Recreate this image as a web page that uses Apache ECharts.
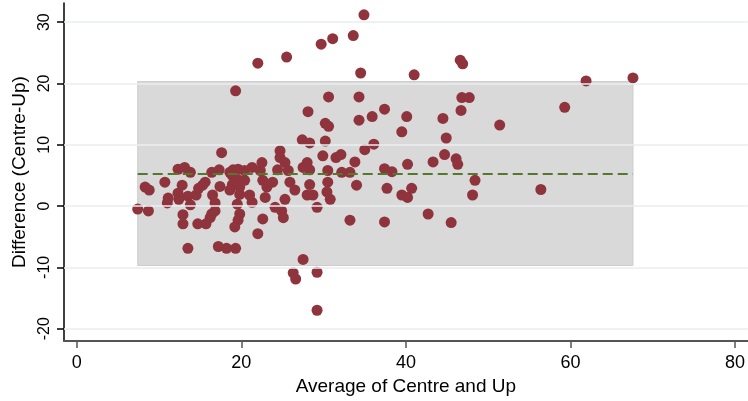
<!DOCTYPE html>
<html>
<head>
<meta charset="utf-8">
<script src="https://cdn.jsdelivr.net/npm/echarts@6/dist/echarts.min.js"></script>
<style>
html,body{margin:0;padding:0;background:#fff;}
#chart{width:748px;height:401px;}
</style>
</head>
<body>
<div id="chart"></div>
<script>
// Average of Centre and Up (x) and Difference Centre-Up (y)
const avgValues = [
 7.4, 8.7, 8.3, 8.8, 10.7, 11.0, 11.1, 12.3, 13.1, 13.8,
 12.8, 12.3, 12.4, 13.5, 13.8, 12.9, 12.9, 13.5, 14.7, 15.7,
 16.2, 14.5, 14.8, 15.3, 15.6, 16.5, 16.8, 16.4, 16.8, 16.4,
 17.3, 17.6, 17.4, 17.2, 18.2, 19.3, 18.6, 19.0, 19.6, 18.9,
 19.6, 18.9, 19.8, 18.6, 19.8, 21.0, 21.3, 19.5, 19.8, 19.6,
 19.2, 20.4, 21.3, 22.5, 22.3, 22.6, 23.1, 23.8, 22.9, 22.0,
 22.6, 24.1, 24.9, 25.1, 25.3, 24.7, 24.7, 25.3, 24.4, 25.7,
 25.9, 26.5, 27.5, 28.0, 28.3, 28.3, 28.0, 28.7, 29.2, 27.5,
 27.4, 28.3, 29.9, 30.2, 30.5, 30.4, 30.8, 31.5, 32.1, 33.8,
 35.0, 36.1, 39.5, 40.2, 43.3, 44.9, 44.7, 46.1, 46.3, 30.5,
 32.2, 33.2, 37.4, 38.3, 34.0, 37.7, 40.7, 39.5, 40.2, 48.4,
 48.1, 33.2, 37.4, 42.7, 45.5, 26.3, 26.6, 29.2, 29.2, 34.9,
 33.6, 31.1, 29.7, 25.5, 22.0, 34.5, 41.0, 19.3, 30.6, 34.3,
 28.1, 37.4, 40.1, 34.3, 35.9, 30.2, 30.6, 46.6, 46.9, 46.8,
 47.7, 46.7, 44.5, 51.4, 56.4, 59.3, 61.9, 67.6, 20.4
];
const diffValues = [
 -0.5, -0.8, 3.1, 2.6, 3.9, 0.5, 1.3, 6.0, 6.3, 5.5,
 3.4, 2.1, 1.1, 1.6, 0.2, -1.4, -2.9, -6.9, -2.9, -2.9,
 -1.9, 1.8, 2.9, 3.4, 3.9, 1.8, 0.5, -1.3, -0.8, 5.5,
 5.9, 8.7, 3.2, -6.6, -6.9, -6.9, 5.5, 5.9, 6.0, 5.0,
 4.3, 3.5, 3.1, 2.6, 1.9, 1.8, 0.6, 0.3, -1.3, -2.3,
 -3.4, 5.8, 6.3, 7.1, 5.8, 4.2, 3.1, 3.9, 1.4, -4.5,
 -2.1, -0.2, -0.8, -1.9, 1.1, 9.0, 7.9, 7.1, 5.9, 5.8,
 3.9, 2.6, 6.3, 7.1, 5.9, 3.5, 1.8, 1.8, -0.2, -8.7,
 10.8, 10.3, 8.2, 10.6, 3.9, 2.3, 1.1, 7.9, 8.4, 7.2,
 9.2, 10.1, 12.1, 6.8, 7.2, 11.1, 8.4, 7.7, 6.8, 5.8,
 5.5, 5.5, 6.1, 5.6, 3.4, 2.9, 2.9, 1.8, 1.4, 4.2,
 1.8, -2.3, -2.6, -1.3, -2.7, -10.9, -11.9, -10.8, -17.0, 31.2,
 27.8, 27.3, 26.4, 24.3, 23.3, 21.7, 21.4, 18.8, 17.8, 17.8,
 15.4, 15.8, 14.6, 14.0, 14.6, 13.5, 13.0, 23.8, 23.2, 17.7,
 17.7, 15.6, 14.3, 13.2, 2.7, 16.1, 20.4, 20.9, 4.2
];
// limits of agreement: lower, mean difference, upper
const limitValues = [-9.7, 5.3, 20.3];
const xTickValues = [0, 20, 40, 60, 80];
const yTickValues = [-20, -10, 0, 10, 20, 30];

const points = avgValues.map((x, i) => [x, diffValues[i]]);
const xMin = Math.min(...avgValues);
const xMax = Math.max(...avgValues);

const FONT = '"Liberation Sans", Arial, Helvetica, sans-serif';
const chart = echarts.init(document.getElementById('chart'), null, {renderer: 'canvas'});
chart.setOption({
  animation: false,
  backgroundColor: '#ffffff',
  grid: {left: 64, right: 0, top: 3, bottom: 55, containLabel: false},
  xAxis: {
    type: 'value',
    min: -1.56, max: 81.55,
    name: 'Average of Centre and Up',
    nameLocation: 'middle',
    nameGap: 30,
    nameTextStyle: {fontFamily: FONT, fontSize: 19, color: '#000'},
    axisLine: {show: true, onZero: false, lineStyle: {color: '#555555', width: 2}},
    axisTick: {show: true, customValues: xTickValues, length: 7, lineStyle: {color: '#555555', width: 1.5}},
    axisLabel: {customValues: xTickValues, margin: 13, fontFamily: FONT, fontSize: 18, color: '#000'},
    splitLine: {show: false}
  },
  yAxis: {
    type: 'value',
    min: -22.03, max: 33.12,
    name: 'Difference (Centre-Up)',
    nameLocation: 'middle',
    nameGap: 33,
    nameTextStyle: {fontFamily: FONT, fontSize: 19, color: '#000'},
    axisLine: {show: true, onZero: false, lineStyle: {color: '#000', width: 1.5}},
    axisTick: {show: true, customValues: yTickValues, length: 7, lineStyle: {color: '#000', width: 1.5}},
    axisLabel: {customValues: yTickValues, rotate: 90, margin: 11, fontFamily: FONT, fontSize: 16, color: '#000'},
    splitLine: {show: false}
  },
  series: [
    {
      name: 'grid', type: 'scatter', data: [], z: 1, silent: true,
      markLine: {
        silent: true, symbol: 'none', label: {show: false}, animation: false,
        lineStyle: {color: '#e8eef2', width: 1.5, type: 'solid'},
        data: yTickValues.map(v => ({yAxis: v}))
      }
    },
    {
      name: 'band', type: 'scatter', data: [], z: 2, silent: true,
      markArea: {
        silent: true, animation: false,
        itemStyle: {color: '#d9d9d9', borderColor: '#cdcdcd', borderWidth: 1},
        data: [[{coord: [xMin, limitValues[0]]}, {coord: [xMax, limitValues[2]]}]]
      }
    },
    {
      name: 'mean', type: 'scatter', data: [], z: 3, silent: true,
      markLine: {
        silent: true, symbol: 'none', label: {show: false}, animation: false,
        lineStyle: {color: '#56782c', width: 2, type: [10, 5]},
        data: [[{coord: [xMin, limitValues[1]]}, {coord: [xMax, limitValues[1]]}]]
      }
    },
    {
      name: 'points', type: 'scatter', z: 4,
      symbol: 'circle', symbolSize: 11,
      itemStyle: {color: '#8f343c', opacity: 1},
      data: points
    }
  ]
});
</script>
</body>
</html>
